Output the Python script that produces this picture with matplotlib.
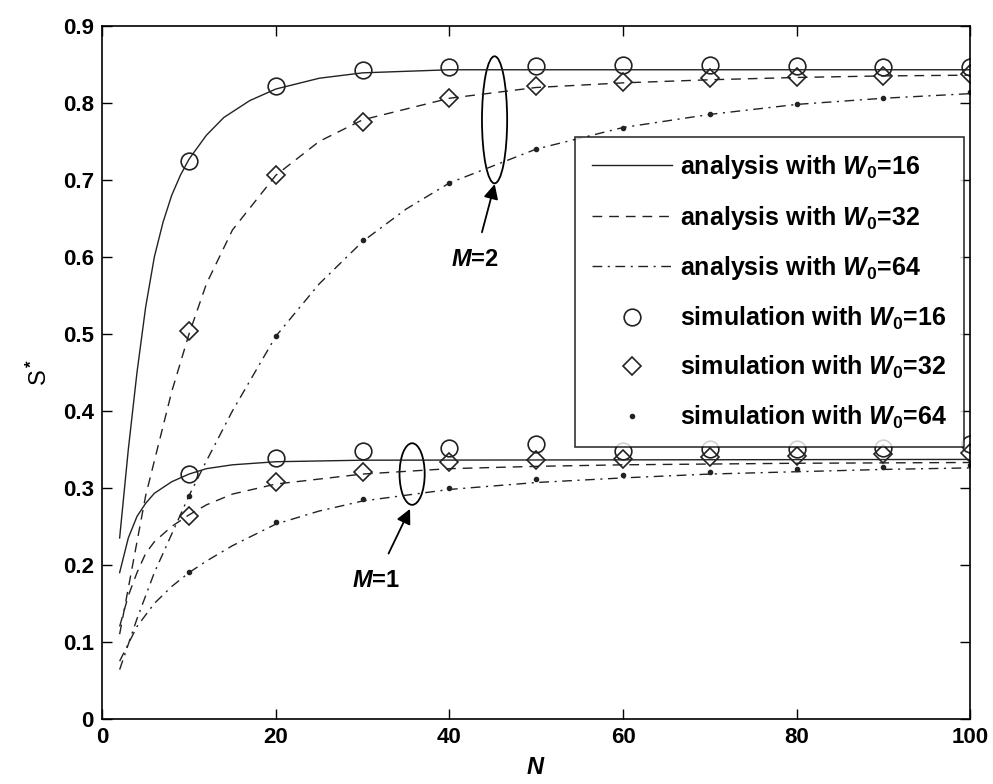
import matplotlib
matplotlib.use('Agg')
import matplotlib.pyplot as plt
from matplotlib.patches import Ellipse

plt.rcParams['font.family'] = ['Liberation Sans', 'DejaVu Sans']
plt.rcParams['font.weight'] = 'bold'
plt.rcParams['mathtext.fontset'] = 'custom'
plt.rcParams['mathtext.rm'] = 'Liberation Sans:bold'
plt.rcParams['mathtext.it'] = 'Liberation Sans:italic:bold'

# analysis curves
n_a16_m2 = [2, 3, 4, 5, 6, 7, 8, 9, 10, 12, 14, 17, 20, 25, 30, 40, 60, 100]
a16_m2 = [0.235, 0.35, 0.45, 0.535, 0.6, 0.645, 0.68, 0.706, 0.727, 0.758, 0.781, 0.803, 0.818, 0.832, 0.839, 0.843, 0.843, 0.843]
n_a32_m2 = [2, 3, 4, 5, 6, 7, 8, 10, 12, 15, 20, 25, 30, 40, 50, 60, 70, 80, 90, 100]
a32_m2 = [0.11, 0.17, 0.23, 0.29, 0.335, 0.38, 0.425, 0.50, 0.565, 0.635, 0.706, 0.75, 0.778, 0.806, 0.82, 0.826, 0.83, 0.833, 0.835, 0.836]
n_a64_m2 = [2, 4, 6, 8, 10, 12, 15, 20, 25, 30, 35, 40, 50, 60, 70, 80, 90, 100]
a64_m2 = [0.064, 0.13, 0.19, 0.24, 0.29, 0.335, 0.40, 0.497, 0.565, 0.62, 0.662, 0.696, 0.74, 0.768, 0.785, 0.798, 0.806, 0.812]

n_a16_m1 = [2, 3, 4, 5, 6, 8, 10, 12, 15, 20, 30, 100]
a16_m1 = [0.19, 0.235, 0.263, 0.28, 0.293, 0.308, 0.318, 0.325, 0.33, 0.334, 0.336, 0.337]
n_a32_m1 = [2, 3, 4, 5, 6, 8, 10, 12, 15, 20, 30, 40, 50, 60, 80, 100]
a32_m1 = [0.12, 0.16, 0.19, 0.215, 0.23, 0.25, 0.265, 0.278, 0.292, 0.305, 0.318, 0.325, 0.328, 0.33, 0.332, 0.333]
n_a64_m1 = [2, 4, 6, 8, 10, 12, 15, 20, 25, 30, 40, 50, 60, 70, 80, 90, 100]
a64_m1 = [0.075, 0.12, 0.15, 0.172, 0.19, 0.205, 0.225, 0.253, 0.27, 0.283, 0.298, 0.307, 0.313, 0.318, 0.321, 0.324, 0.326]

# simulation points
n_sim = [10, 20, 30, 40, 50, 60, 70, 80, 90, 100]
s16_m2 = [0.725, 0.822, 0.843, 0.847, 0.848, 0.849, 0.849, 0.848, 0.847, 0.847]
s32_m2 = [0.504, 0.706, 0.775, 0.806, 0.822, 0.827, 0.832, 0.834, 0.835, 0.838]
s64_m2 = [0.29, 0.497, 0.622, 0.696, 0.74, 0.768, 0.785, 0.798, 0.806, 0.814]
s16_m1 = [0.318, 0.339, 0.348, 0.352, 0.357, 0.348, 0.35, 0.35, 0.352, 0.357]
s32_m1 = [0.264, 0.308, 0.321, 0.334, 0.336, 0.338, 0.34, 0.342, 0.344, 0.345]
s64_m1 = [0.191, 0.256, 0.286, 0.300, 0.312, 0.317, 0.321, 0.325, 0.327, 0.33]

fig = plt.figure(figsize=(9.93, 7.84), dpi=100)
ax = fig.add_axes([0.103, 0.083, 0.874, 0.884])

lw = 1.0
col = '#222222'
ax.plot(n_a16_m2, a16_m2, '-', color=col, lw=lw, label='analysis with $W_0$=16')
ax.plot(n_a32_m2, a32_m2, '--', color=col, lw=lw, dashes=(7, 5), label='analysis with $W_0$=32')
ax.plot(n_a64_m2, a64_m2, '-.', color=col, lw=lw, dashes=(7, 4, 1.5, 4), label='analysis with $W_0$=64')
ax.plot(n_a16_m1, a16_m1, '-', color=col, lw=lw)
ax.plot(n_a32_m1, a32_m1, '--', color=col, lw=lw, dashes=(7, 5))
ax.plot(n_a64_m1, a64_m1, '-.', color=col, lw=lw, dashes=(7, 4, 1.5, 4))

ax.plot(n_sim, s16_m2, 'o', mfc='none', mec=col, ms=12, mew=1.2, label='simulation with $W_0$=16')
ax.plot(n_sim, s32_m2, 'D', mfc='none', mec=col, ms=9.5, mew=1.2, label='simulation with $W_0$=32')
ax.plot(n_sim, s64_m2, '.', color=col, ms=6, label='simulation with $W_0$=64')
ax.plot(n_sim, s16_m1, 'o', mfc='none', mec=col, ms=12, mew=1.2)
ax.plot(n_sim, s32_m1, 'D', mfc='none', mec=col, ms=9.5, mew=1.2)
ax.plot(n_sim, s64_m1, '.', color=col, ms=6)

ax.set_xlim(0, 100)
ax.set_ylim(0, 0.9)
ax.set_xticks(range(0, 101, 20))
ax.set_yticks([i / 10 for i in range(10)])
ax.set_yticklabels(['0'] + ['%.1f' % (i / 10) for i in range(1, 10)])
ax.tick_params(direction='in', top=True, right=True, labelsize=16, length=7, width=1, pad=6)
for s in ax.spines.values():
    s.set_linewidth(1.2)

ax.set_xlabel('$N$', fontsize=17, labelpad=6)
ax.set_ylabel('S$^*$', fontsize=17, labelpad=8)

# ellipses and arrows
ax.add_patch(Ellipse((45.2, 0.778), 2.9, 0.165, fill=False, ec='black', lw=1.3))
ax.annotate('$M$=2', xy=(45.3, 0.698), xytext=(42.9, 0.596), fontsize=17,
            ha='center', va='center',
            arrowprops=dict(arrowstyle='-|>', color='black', lw=1.3, mutation_scale=22, shrinkA=10))
ax.add_patch(Ellipse((35.7, 0.318), 2.9, 0.08, fill=False, ec='black', lw=1.3))
ax.annotate('$M$=1', xy=(35.6, 0.276), xytext=(31.5, 0.18), fontsize=17,
            ha='center', va='center',
            arrowprops=dict(arrowstyle='-|>', color='black', lw=1.3, mutation_scale=22, shrinkA=10))

leg = ax.legend(loc='upper left', bbox_to_anchor=(0.545, 0.84), borderaxespad=0,
                fontsize=18, frameon=True, fancybox=False, edgecolor='black',
                handlelength=3.2, labelspacing=0.9, borderpad=0.65, handletextpad=0.35,
                numpoints=1)
leg.get_frame().set_linewidth(1.2)

fig.savefig('out.png', dpi=100, facecolor='white')
